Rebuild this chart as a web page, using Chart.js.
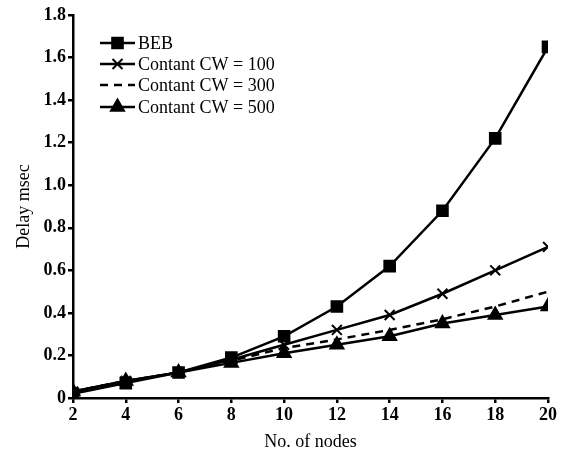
<!DOCTYPE html>
<html>
<head>
<meta charset="utf-8">
<script src="https://cdn.jsdelivr.net/npm/chart.js@4"></script>
<style>
  html, body { margin: 0; padding: 0; background: #fff; }
  #wrap { width: 563px; height: 457px; }
</style>
</head>
<body>
<div id="wrap"><canvas id="chart" width="563" height="457"></canvas></div>
<script>
// data
const nodes   = [2, 4, 6, 8, 10, 12, 14, 16, 18, 20];
const beb     = [0.02, 0.07, 0.12, 0.19, 0.29, 0.43, 0.62, 0.88, 1.22, 1.65];
const cw100   = [0.03, 0.08, 0.12, 0.18, 0.25, 0.32, 0.39, 0.49, 0.60, 0.71];
const cw300   = [0.03, 0.08, 0.12, 0.175, 0.235, 0.275, 0.32, 0.37, 0.43, 0.50];
const cw500   = [0.03, 0.08, 0.12, 0.165, 0.21, 0.25, 0.29, 0.35, 0.39, 0.43];
const seriesNames = ['BEB', 'Contant CW = 100', 'Contant CW = 300', 'Contant CW = 500'];
const yTicks  = [0, 0.2, 0.4, 0.6, 0.8, 1.0, 1.2, 1.4, 1.6, 1.8];

const SERIF = '"Liberation Serif", "DejaVu Serif", serif';

const pts = arr => arr.map((v, i) => ({ x: nodes[i], y: v }));

function ds(label, data, style, radius, dash) {
  return {
    label,
    data: pts(data),
    borderColor: '#000',
    backgroundColor: '#000',
    borderWidth: 2.5,
    borderDash: dash || [],
    pointStyle: style,
    pointRadius: radius,
    pointBorderWidth: 2,
    pointBorderColor: '#000',
    pointBackgroundColor: '#000',
    tension: 0
  };
}

// legend drawn inside the plot, top left
const insideLegend = {
  id: 'insideLegend',
  afterDraw(chart) {
    const ctx = chart.ctx;
    const x0 = 100, x1 = 135;
    const rows = [43, 64, 85, 107];
    ctx.save();
    ctx.font = '18px ' + SERIF;
    ctx.fillStyle = '#000';
    ctx.textBaseline = 'middle';
    chart.data.datasets.forEach((d, i) => {
      const y = rows[i];
      ctx.strokeStyle = '#000';
      ctx.lineWidth = 2.5;
      ctx.setLineDash(d.borderDash);
      ctx.beginPath();
      ctx.moveTo(x0, y);
      ctx.lineTo(x1, y);
      ctx.stroke();
      ctx.setLineDash([]);
      if (d.pointRadius > 0) {
        ctx.lineWidth = 2;
        Chart.helpers.drawPoint(ctx, {
          pointStyle: d.pointStyle, radius: d.pointRadius, borderWidth: 2, rotation: 0
        }, (x0 + x1) / 2, y);
        ctx.fill();
      }
      ctx.fillText(seriesNames[i], x1 + 3, y + 1);
    });
    ctx.restore();
  }
};

new Chart(document.getElementById('chart').getContext('2d'), {
  type: 'line',
  data: {
    datasets: [
      ds(seriesNames[0], beb,   'rect',     7.5),
      ds(seriesNames[1], cw100, 'crossRot', 7),
      ds(seriesNames[2], cw300, 'circle',   0, [8, 6]),
      ds(seriesNames[3], cw500, 'triangle', 7.5)
    ]
  },
  options: {
    responsive: false,
    animation: false,
    layout: { padding: { top: 15, right: 15, left: 0, bottom: 0 } },
    plugins: {
      legend: { display: false },
      tooltip: { enabled: false }
    },
    scales: {
      x: {
        type: 'linear',
        min: 2, max: 20,
        afterFit: s => { s.height = 59; },
        ticks: {
          stepSize: 2,
          color: '#000',
          padding: 2,
          maxRotation: 0,
          font: { family: SERIF, size: 18, weight: 'bold' }
        },
        grid: { drawOnChartArea: false, drawTicks: true, tickLength: 5, color: '#000', lineWidth: 2.5 },
        border: { color: '#000', width: 2.5 },
        title: {
          display: true, text: 'No. of nodes', color: '#000',
          font: { family: SERIF, size: 18 }, padding: { top: 4 }
        }
      },
      y: {
        min: 0, max: 1.8,
        afterFit: s => { s.width = 73; },
        afterBuildTicks: s => { s.ticks = yTicks.map(v => ({ value: v })); },
        ticks: {
          color: '#000',
          padding: 2,
          callback: v => v === 0 ? '0' : v.toFixed(1),
          font: { family: SERIF, size: 18, weight: 'bold' }
        },
        grid: { drawOnChartArea: false, drawTicks: true, tickLength: 5, color: '#000', lineWidth: 2.5 },
        border: { color: '#000', width: 2.5 },
        title: {
          display: true, text: 'Delay msec', color: '#000',
          font: { family: SERIF, size: 18 }, padding: { top: 13, bottom: 0 }
        }
      }
    }
  },
  plugins: [insideLegend]
});
</script>
</body>
</html>
